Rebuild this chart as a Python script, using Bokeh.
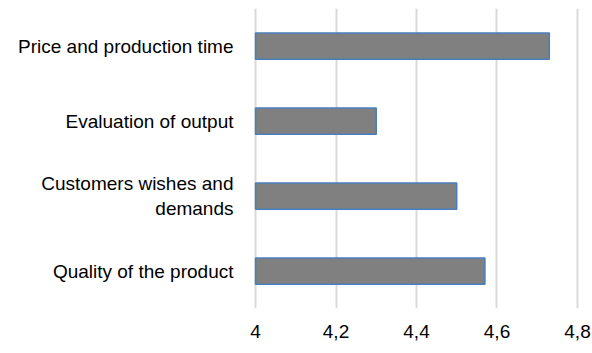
from bokeh.plotting import figure
from bokeh.models import Range1d, FactorRange, FixedTicker, CustomJSTickFormatter, ColumnDataSource
from bokeh.embed import file_html
from bokeh.resources import INLINE

categories = ["Quality of the product", "Customers wishes and\ndemands", "Evaluation of output", "Price and production time"]
values = [4.57, 4.50, 4.30, 4.73]
x_ticks = [4.0, 4.2, 4.4, 4.6, 4.8]

src = ColumnDataSource(dict(cat=categories, val=values, base=[4.0] * len(values)))

p = figure(width=592, height=353, y_range=FactorRange(factors=categories),
           x_range=Range1d(3.995, 4.805), output_backend="svg", toolbar_location=None)
p.min_border_left = 253
p.min_border_right = 13
p.min_border_top = 8
p.min_border_bottom = 45
p.outline_line_color = None
p.background_fill_color = "white"
p.border_fill_color = "white"

p.xgrid.ticker = FixedTicker(ticks=x_ticks)
p.xgrid.grid_line_color = "#d9d9d9"
p.xgrid.grid_line_width = 2
p.ygrid.grid_line_color = None

p.hbar(y="cat", left="base", right="val", height=0.35, source=src,
       fill_color="#808080", line_color="#4a7ebb", line_width=1.5)

p.xaxis.ticker = FixedTicker(ticks=x_ticks)
p.xaxis.formatter = CustomJSTickFormatter(code="var s=(Math.round(tick*10)/10).toString(); return s.replace('.', ',');")
p.xaxis.axis_line_color = None
p.xaxis.major_tick_line_color = None
p.xaxis.minor_tick_line_color = None
p.xaxis.major_label_standoff = 10
p.xaxis.major_label_text_font = "Liberation Sans"
p.xaxis.major_label_text_font_size = "19px"
p.xaxis.major_label_text_color = "#000000"

p.yaxis.axis_line_color = None
p.yaxis.major_tick_line_color = None
p.yaxis.minor_tick_line_color = None
p.yaxis.major_label_standoff = 14
p.yaxis.major_label_text_font = "Liberation Sans"
p.yaxis.major_label_text_font_size = "19px"
p.yaxis.major_label_text_color = "#000000"
p.yaxis.major_label_text_align = "center"

open("out.html", "w").write(file_html(p, INLINE))
